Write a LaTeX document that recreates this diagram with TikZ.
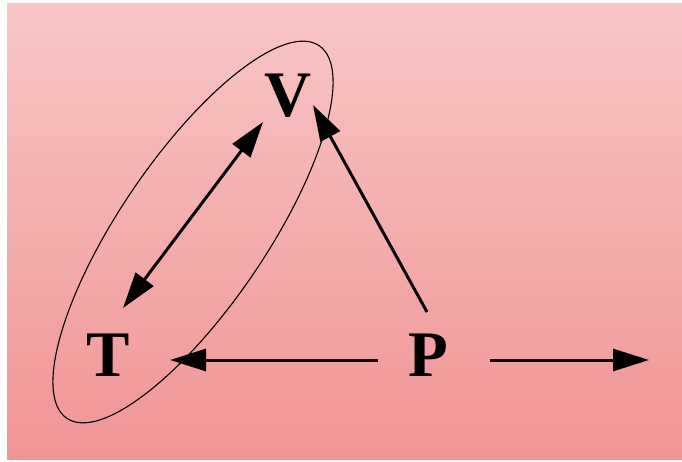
\documentclass[tikz,border=0pt]{standalone}
\usepackage{fontspec}
\setmainfont{Liberation Serif}
\usetikzlibrary{arrows.meta}
\definecolor{bgtop}{RGB}{248,198,198}
\definecolor{bgbot}{RGB}{241,148,148}
\tikzset{
  letter/.style={inner sep=0pt, font=\fontsize{65}{70}\selectfont\bfseries},
  conn/.style={line width=3pt, -{Triangle[length=36pt,width=22pt]}},
  biconn/.style={line width=3pt, {Triangle[length=36pt,width=22pt]}-{Triangle[length=36pt,width=22pt]}},
  loop/.style={line width=1.1pt}
}
\begin{document}
\begin{tikzpicture}[x=1pt,y=-1pt]
\useasboundingbox (0,0) rectangle (682,462);
\fill[white] (0,0) rectangle (682,462);
\shade[top color=bgtop, bottom color=bgbot] (7,4) rectangle (682,459);
\node[letter] (V) at (288,96) {V};
\node[letter] (T) at (108,355) {T};
\node[letter] (P) at (428,355) {P};
\coordinate (tvA) at (123,308);
\coordinate (tvB) at (263,122);
\coordinate (pv) at (427,312);
\coordinate (vtip) at (313,105);
\coordinate (pt) at (378,360);
\coordinate (ttip) at (170,360);
\coordinate (outA) at (490,360);
\coordinate (outB) at (649,360);
\draw[biconn] (tvA) -- (tvB);
\draw[conn] (pv) -- (vtip);
\draw[conn] (pt) -- (ttip);
\draw[conn] (outA) -- (outB);
\draw[loop, rotate around={55.9:(193,232)}] (193,232) ellipse [x radius=225pt, y radius=73.5pt];
\end{tikzpicture}
\end{document}
